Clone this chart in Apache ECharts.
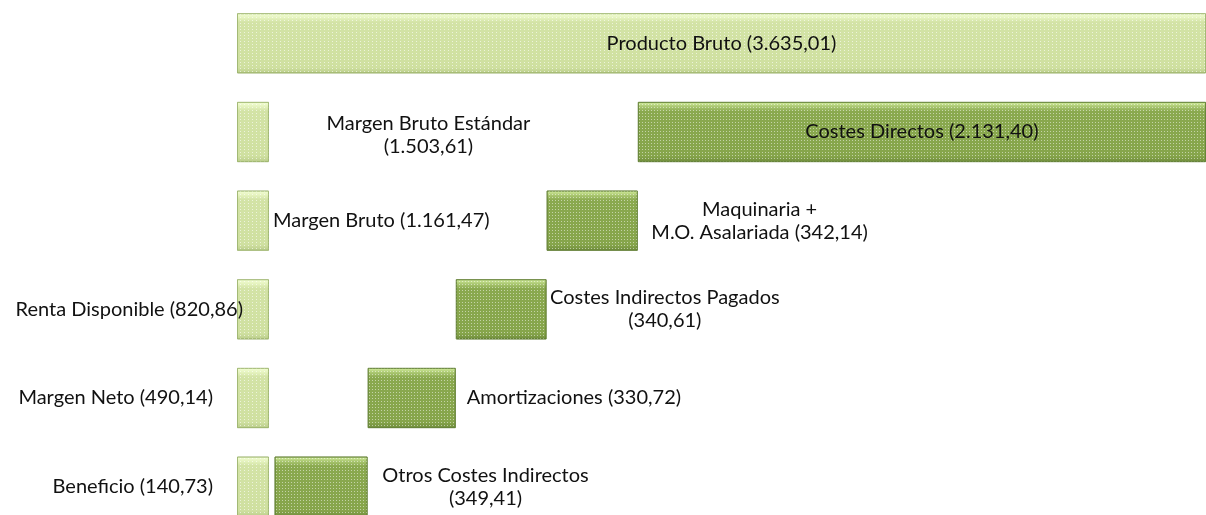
<!DOCTYPE html>
<html>
<head>
<meta charset="utf-8">
<script src="https://cdn.jsdelivr.net/npm/echarts@6/dist/echarts.min.js"></script>
<style>html,body{margin:0;padding:0;background:#fff;overflow:hidden;width:1206px;height:515px;position:relative;}#c{position:absolute;left:0;top:-1px;width:1206px;height:532px;}</style>
</head>
<body>
<div id="c"></div>
<script>
// Data
var categories = ['Producto Bruto', 'Margen Bruto Estándar', 'Margen Bruto', 'Renta Disponible', 'Margen Neto', 'Beneficio'];
var marginValues = [3635.01, 1503.61, 1161.47, 820.86, 490.14, 140.73];
var costValues = [null, 2131.40, 342.14, 340.61, 330.72, 349.41];
var stubValues = [3635.01, 120, 120, 120, 120, 120];
var marginLabels = ['Producto Bruto (3.635,01)', 'Margen Bruto Estándar\n(1.503,61)', 'Margen Bruto (1.161,47)', 'Renta Disponible (820,86)', 'Margen Neto (490,14)', 'Beneficio (140,73)'];
var costLabels = ['', 'Costes Directos (2.131,40)', 'Maquinaria +\nM.O. Asalariada (342,14)', 'Costes Indirectos Pagados\n(340,61)', 'Amortizaciones (330,72)', 'Otros Costes Indirectos\n(349,41)'];

var FONT = 'Lato';
var TXT = '#111111';
var baseLabel = {show: true, fontFamily: FONT, fontSize: 20, color: TXT, lineHeight: 23};

var lightFill = new echarts.graphic.LinearGradient(0, 0, 0, 1, [
  {offset: 0, color: '#f4ffd6'}, {offset: 0.08, color: '#e4f2bd'}, {offset: 0.15, color: '#d3e3a6'},
  {offset: 0.9, color: '#cfe0a0'}, {offset: 1, color: '#b9cc8a'}]);
var darkFill = new echarts.graphic.LinearGradient(0, 0, 0, 1, [
  {offset: 0, color: '#d6f0a0'}, {offset: 0.08, color: '#a9c670'}, {offset: 0.16, color: '#8aa94f'},
  {offset: 0.9, color: '#86a54b'}, {offset: 1, color: '#6f8c3c'}]);

var lightDecal = {symbol: 'rect', symbolSize: 1, dashArrayX: [1, 3], dashArrayY: [1, 2], color: 'rgba(255,255,255,0.6)'};
var darkDecal = {symbol: 'rect', symbolSize: 1, dashArrayX: [1, 2], dashArrayY: [1, 2], color: 'rgba(255,255,255,0.5)'};

var stubData = stubValues.map(function (v, i) {
  var d = {value: v};
  if (i === 0) {
    d.label = Object.assign({}, baseLabel, {position: 'inside', formatter: marginLabels[0]});
  }
  return d;
});

var baseData = marginValues.map(function (v, i) {
  if (i === 0) return {value: 0};
  var lab;
  if (i === 1) lab = {position: 'inside', align: 'center', offset: [-9, 3]};
  else if (i === 2) lab = {position: [36, '50%'], align: 'left', verticalAlign: 'middle'};
  else lab = {position: 'left', distance: (i === 3 ? -6 : 24)};
  return {value: v, label: Object.assign({}, baseLabel, lab, {formatter: marginLabels[i]})};
});

var costData = costValues.map(function (v, i) {
  if (v === null) return {value: null};
  var lab;
  if (i === 1) lab = {position: 'inside'};
  else if (i === 4) lab = {position: 'right', distance: 11};
  else {
    var xo = {2: 213, 3: 209, 5: 211}[i];
    lab = {position: [xo, '50%'], align: 'center', verticalAlign: 'middle'};
  }
  return {value: v, label: Object.assign({}, baseLabel, lab, {formatter: costLabels[i]})};
});

var chart = echarts.init(document.getElementById('c'), null, {renderer: 'canvas'});
chart.setOption({
  animation: false,
  grid: {left: 237, right: 0, top: 0, bottom: 0, containLabel: false},
  xAxis: {type: 'value', min: 0, max: 3635.01, show: false},
  yAxis: {type: 'category', data: categories, inverse: true, show: false},
  series: [
    {
      name: 'stub', type: 'bar', data: stubData, barCategoryGap: '32%', barGap: '-100%',
      itemStyle: {color: lightFill, borderColor: 'rgba(150,175,100,0.6)', borderWidth: 1, decal: lightDecal},
      z: 2
    },
    {
      name: 'base', type: 'bar', stack: 's', data: baseData, barCategoryGap: '32%',
      itemStyle: {color: 'rgba(0,0,0,0)'}, z: 3, silent: true
    },
    {
      name: 'cost', type: 'bar', stack: 's', data: costData, barCategoryGap: '32%',
      itemStyle: {color: darkFill, borderColor: 'rgba(95,125,50,0.7)', borderWidth: 1, decal: darkDecal},
      z: 4
    }
  ]
});
</script>
</body>
</html>
